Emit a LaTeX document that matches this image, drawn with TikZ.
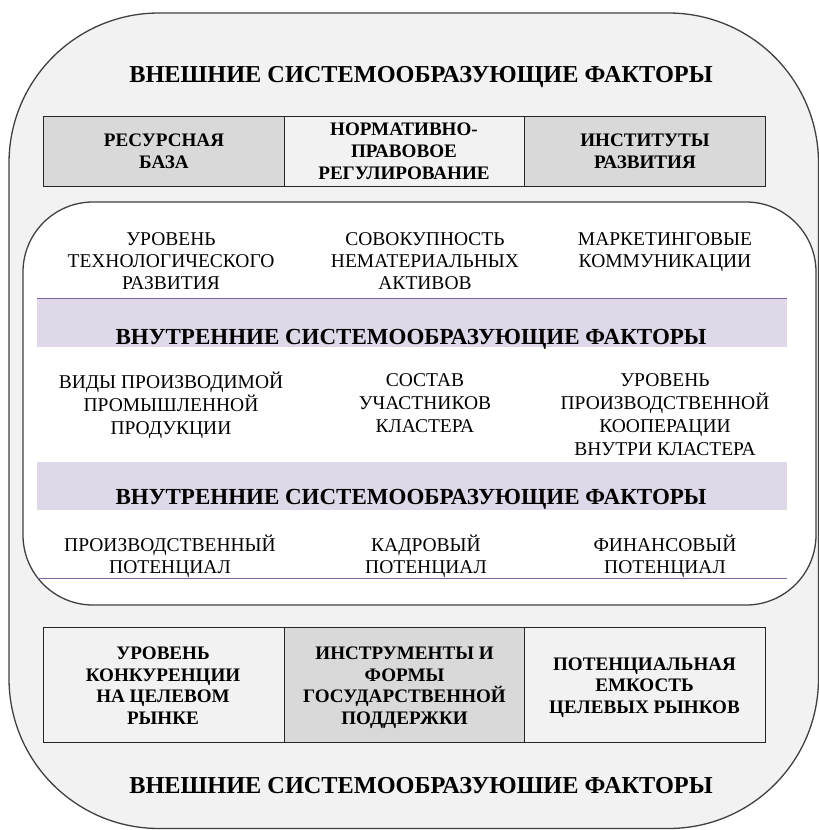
\documentclass[tikz,border=0pt]{standalone}
\usepackage{fontspec}
\setmainfont{LiberationSerif}[Extension=.ttf, UprightFont=*-Regular, BoldFont=*-Bold, ItalicFont=*-Italic, BoldItalicFont=*-BoldItalic]
\definecolor{outerfill}{HTML}{F2F2F2}
\definecolor{cellgray}{HTML}{D9D9D9}
\definecolor{celllight}{HTML}{F2F2F2}
\definecolor{bandfill}{HTML}{DFD8E8}
\definecolor{bandline}{HTML}{8064A2}
\definecolor{frameline}{HTML}{404040}
\tikzset{
  frame/.style={draw=frameline, line width=1.3pt},
  cellbox/.style={draw=black!85, line width=1pt, minimum width=240.5pt, inner sep=0pt},
  txtbase/.style={align=center, inner sep=0pt,
    execute at begin node={\rule{0pt}{21pt}}, execute at end node={\rule[-6pt]{0pt}{6pt}}},
  bodytxt/.style={txtbase, font={\fontsize{19.5}{22}\selectfont}},
  bodytxtw/.style={txtbase, font={\fontsize{19.5}{23}\selectfont}},
  tabtxt/.style={txtbase, font={\fontsize{19.1}{22}\selectfont\bfseries}},
  tabtxtb/.style={txtbase, font={\fontsize{19.1}{21.5}\selectfont\bfseries}},
  titletxt/.style={inner sep=0pt, font={\fontsize{24.3}{28}\selectfont\bfseries},
    execute at begin node={\rule{0pt}{21pt}}, execute at end node={\rule[-6pt]{0pt}{6pt}}},
  bandtxt/.style={titletxt, font={\fontsize{23}{28}\selectfont\bfseries}},
}
\begin{document}
\begin{tikzpicture}[x=1pt,y=-1pt]
\useasboundingbox (0,0) rectangle (819,830);
% outer frame
\draw[frame, fill=outerfill, rounded corners=150pt] (9,13) rectangle (818.5,828.5);
\node[titletxt] (toptitle) at (421,74.5) {ВНЕШНИЕ СИСТЕМООБРАЗУЮЩИЕ ФАКТОРЫ};
% top table
\node[cellbox, fill=cellgray, minimum height=70pt] (t1) at (163.75,151) {};
\node[cellbox, fill=celllight, minimum height=70pt] (t2) at (404.25,151) {};
\node[cellbox, fill=cellgray, minimum height=70pt] (t3) at (644.75,151) {};
\node[tabtxt] (t1t) at (164,154) {РЕСУРСНАЯ\\БАЗА};
\node[tabtxt] (t2t) at (404,154) {НОРМАТИВНО-\\ПРАВОВОЕ\\РЕГУЛИРОВАНИЕ};
\node[tabtxt] (t3t) at (645,154) {ИНСТИТУТЫ\\РАЗВИТИЯ};
% inner frame
\draw[frame, fill=white, rounded corners=70pt] (23,202) rectangle (816,605);
% bands
\fill[bandfill] (37,298) rectangle (787,347);
\fill[bandfill] (37,462) rectangle (787,510);
\draw[bandline, line width=1pt] (37,298) -- (787,298);
\draw[bandline, line width=1pt] (37,578) -- (787,578);
\node[bandtxt] (band1) at (411,337) {ВНУТРЕННИЕ СИСТЕМООБРАЗУЮЩИЕ ФАКТОРЫ};
\node[bandtxt] (band2) at (411,497) {ВНУТРЕННИЕ СИСТЕМООБРАЗУЮЩИЕ ФАКТОРЫ};
% row 1
\node[bodytxt] (r1a) at (171,264.5) {УРОВЕНЬ\\ТЕХНОЛОГИЧЕСКОГО\\РАЗВИТИЯ};
\node[bodytxt] (r1b) at (425,264.5) {СОВОКУПНОСТЬ\\НЕМАТЕРИАЛЬНЫХ\\АКТИВОВ};
\node[bodytxt] (r1c) at (665,253.5) {МАРКЕТИНГОВЫЕ\\КОММУНИКАЦИИ};
% row 2
\node[bodytxtw] (r2a) at (171,406.5) {ВИДЫ ПРОИЗВОДИМОЙ\\ПРОМЫШЛЕННОЙ\\ПРОДУКЦИИ};
\node[bodytxtw] (r2b) at (425,406.5) {СОСТАВ\\УЧАСТНИКОВ\\КЛАСТЕРА};
\node[bodytxtw] (r2c) at (665,418) {УРОВЕНЬ\\ПРОИЗВОДСТВЕННОЙ\\КООПЕРАЦИИ\\ВНУТРИ КЛАСТЕРА};
% row 3
\node[bodytxt] (r3a) at (170,557.5) {ПРОИЗВОДСТВЕННЫЙ\\ПОТЕНЦИАЛ};
\node[bodytxt] (r3b) at (426,557.5) {КАДРОВЫЙ\\ПОТЕНЦИАЛ};
\node[bodytxt] (r3c) at (665,557.5) {ФИНАНСОВЫЙ\\ПОТЕНЦИАЛ};
% bottom table
\node[cellbox, fill=celllight, minimum height=114.5pt] (b1) at (163.75,684.75) {};
\node[cellbox, fill=cellgray, minimum height=114.5pt] (b2) at (404.25,684.75) {};
\node[cellbox, fill=celllight, minimum height=114.5pt] (b3) at (644.75,684.75) {};
\node[tabtxtb] (b1t) at (163,688.5) {УРОВЕНЬ\\КОНКУРЕНЦИИ\\НА ЦЕЛЕВОМ\\РЫНКЕ};
\node[tabtxtb] (b2t) at (404.5,688.5) {ИНСТРУМЕНТЫ И\\ФОРМЫ\\ГОСУДАРСТВЕННОЙ\\ПОДДЕРЖКИ};
\node[tabtxtb] (b3t) at (644.5,688.5) {ПОТЕНЦИАЛЬНАЯ\\ЕМКОСТЬ\\ЦЕЛЕВЫХ РЫНКОВ};
\node[titletxt] (bottitle) at (421,786) {ВНЕШНИЕ СИСТЕМООБРАЗУЮШИЕ ФАКТОРЫ};
\end{tikzpicture}
\end{document}
